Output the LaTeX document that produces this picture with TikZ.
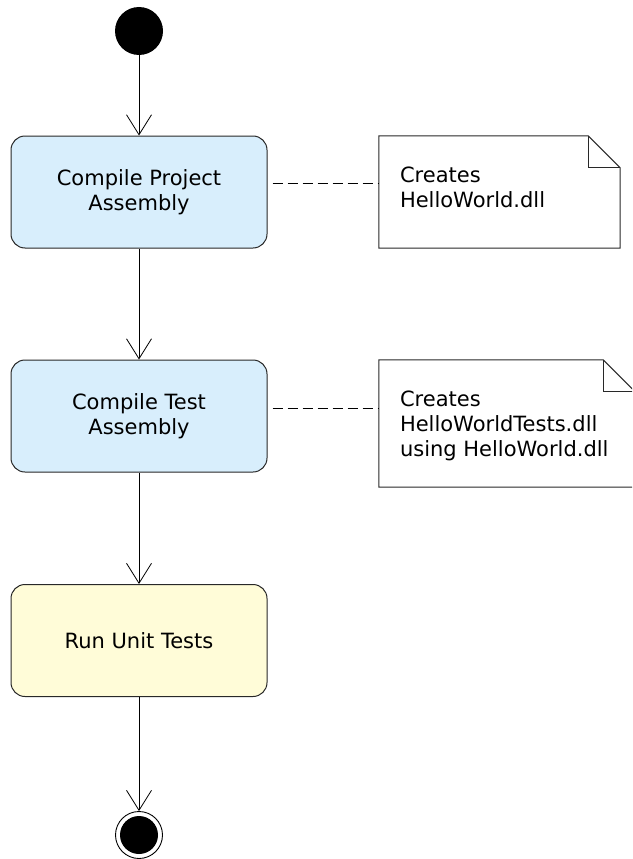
\documentclass[tikz,border=0pt]{standalone}
\usepackage{fontspec}
\setmainfont{DejaVu Sans}
\usetikzlibrary{arrows.meta}

\definecolor{actblue}{RGB}{216,238,252}
\definecolor{actyellow}{RGB}{255,252,216}
\definecolor{edge}{RGB}{40,40,40}

\tikzset{
  activity/.style={draw=edge, line width=1pt, rounded corners=14pt,
    minimum width=256pt, minimum height=112pt, inner sep=0pt,
    align=center, font=\fontsize{21}{25}\selectfont},
  flow/.style={line width=0.9pt, draw=black,
    -{Straight Barb[length=20pt, width=25pt, line width=0.8pt]}},
  notebox/.style={rectangle, inner sep=0pt},
  noteline/.style={draw=edge, line width=1pt},
  notetext/.style={align=left, inner sep=0pt, font=\fontsize{21}{25}\selectfont},
  notelink/.style={line width=0.9pt, dash pattern=on 10pt off 5pt, dash phase=10pt},
}

\begin{document}
\begin{tikzpicture}[x=1pt, y=-1pt]
  \useasboundingbox (0,0) rectangle (632,859);
  \clip (0,0) rectangle (632,859);
  \fill[white] (0,0) rectangle (632,859);

  % initial state
  \node[circle, fill=black, minimum size=48pt, inner sep=0pt] (start) at (139,31) {};

  % activities
  \node[activity, fill=actblue] (b1) at (139,192) {Compile Project\\Assembly};
  \node[activity, fill=actblue] (b2) at (139,416) {Compile Test\\Assembly};
  \node[activity, fill=actyellow] (b3) at (139,640.5) {Run Unit Tests};

  % final state
  \node[circle, draw=black, line width=0.9pt, minimum size=47pt, inner sep=0pt] (final) at (139,835) {};
  \fill[black] (final.center) circle (19pt);

  % control flow
  \draw[flow] (start) -- (b1);
  \draw[flow] (b1) -- (b2);
  \draw[flow] (b2) -- (b3);
  \draw[flow] (b3) -- (final);

  % notes (base anchor of a multi-line node sits on its last line)
  \node[notebox, minimum width=241pt, minimum height=112pt] (n1) at (499.5,192) {};
  \draw[noteline, fill=white]
    (n1.north west) -- ([xshift=-32pt]n1.north east) -- ([yshift=-32pt]n1.north east)
    -- (n1.south east) -- (n1.south west) -- cycle;
  \draw[noteline] ([xshift=-32pt]n1.north east) -- ([xshift=-32pt,yshift=-32pt]n1.north east)
    -- ([yshift=-32pt]n1.north east);
  \node[notetext, anchor=base west] (t1) at ([xshift=21pt,yshift=-72pt]n1.north west)
    {Creates\\HelloWorld.dll};

  \node[notebox, minimum width=256pt, minimum height=127pt] (n2) at (507,423.5) {};
  \draw[noteline, fill=white]
    (n2.north west) -- ([xshift=-32pt]n2.north east) -- ([yshift=-32pt]n2.north east)
    -- (n2.south east) -- (n2.south west) -- cycle;
  \draw[noteline] ([xshift=-32pt]n2.north east) -- ([xshift=-32pt,yshift=-32pt]n2.north east)
    -- ([yshift=-32pt]n2.north east);
  \node[notetext, anchor=base west] (t2) at ([xshift=21pt,yshift=-96.5pt]n2.north west)
    {Creates\\HelloWorldTests.dll\\using HelloWorld.dll};

  % note attachments
  \draw[notelink] ([yshift=9pt]b1.east) -- ([yshift=9pt]b1.east -| n1.west);
  \draw[notelink] ([yshift=8pt]b2.east) -- ([yshift=8pt]b2.east -| n2.west);
\end{tikzpicture}
\end{document}
